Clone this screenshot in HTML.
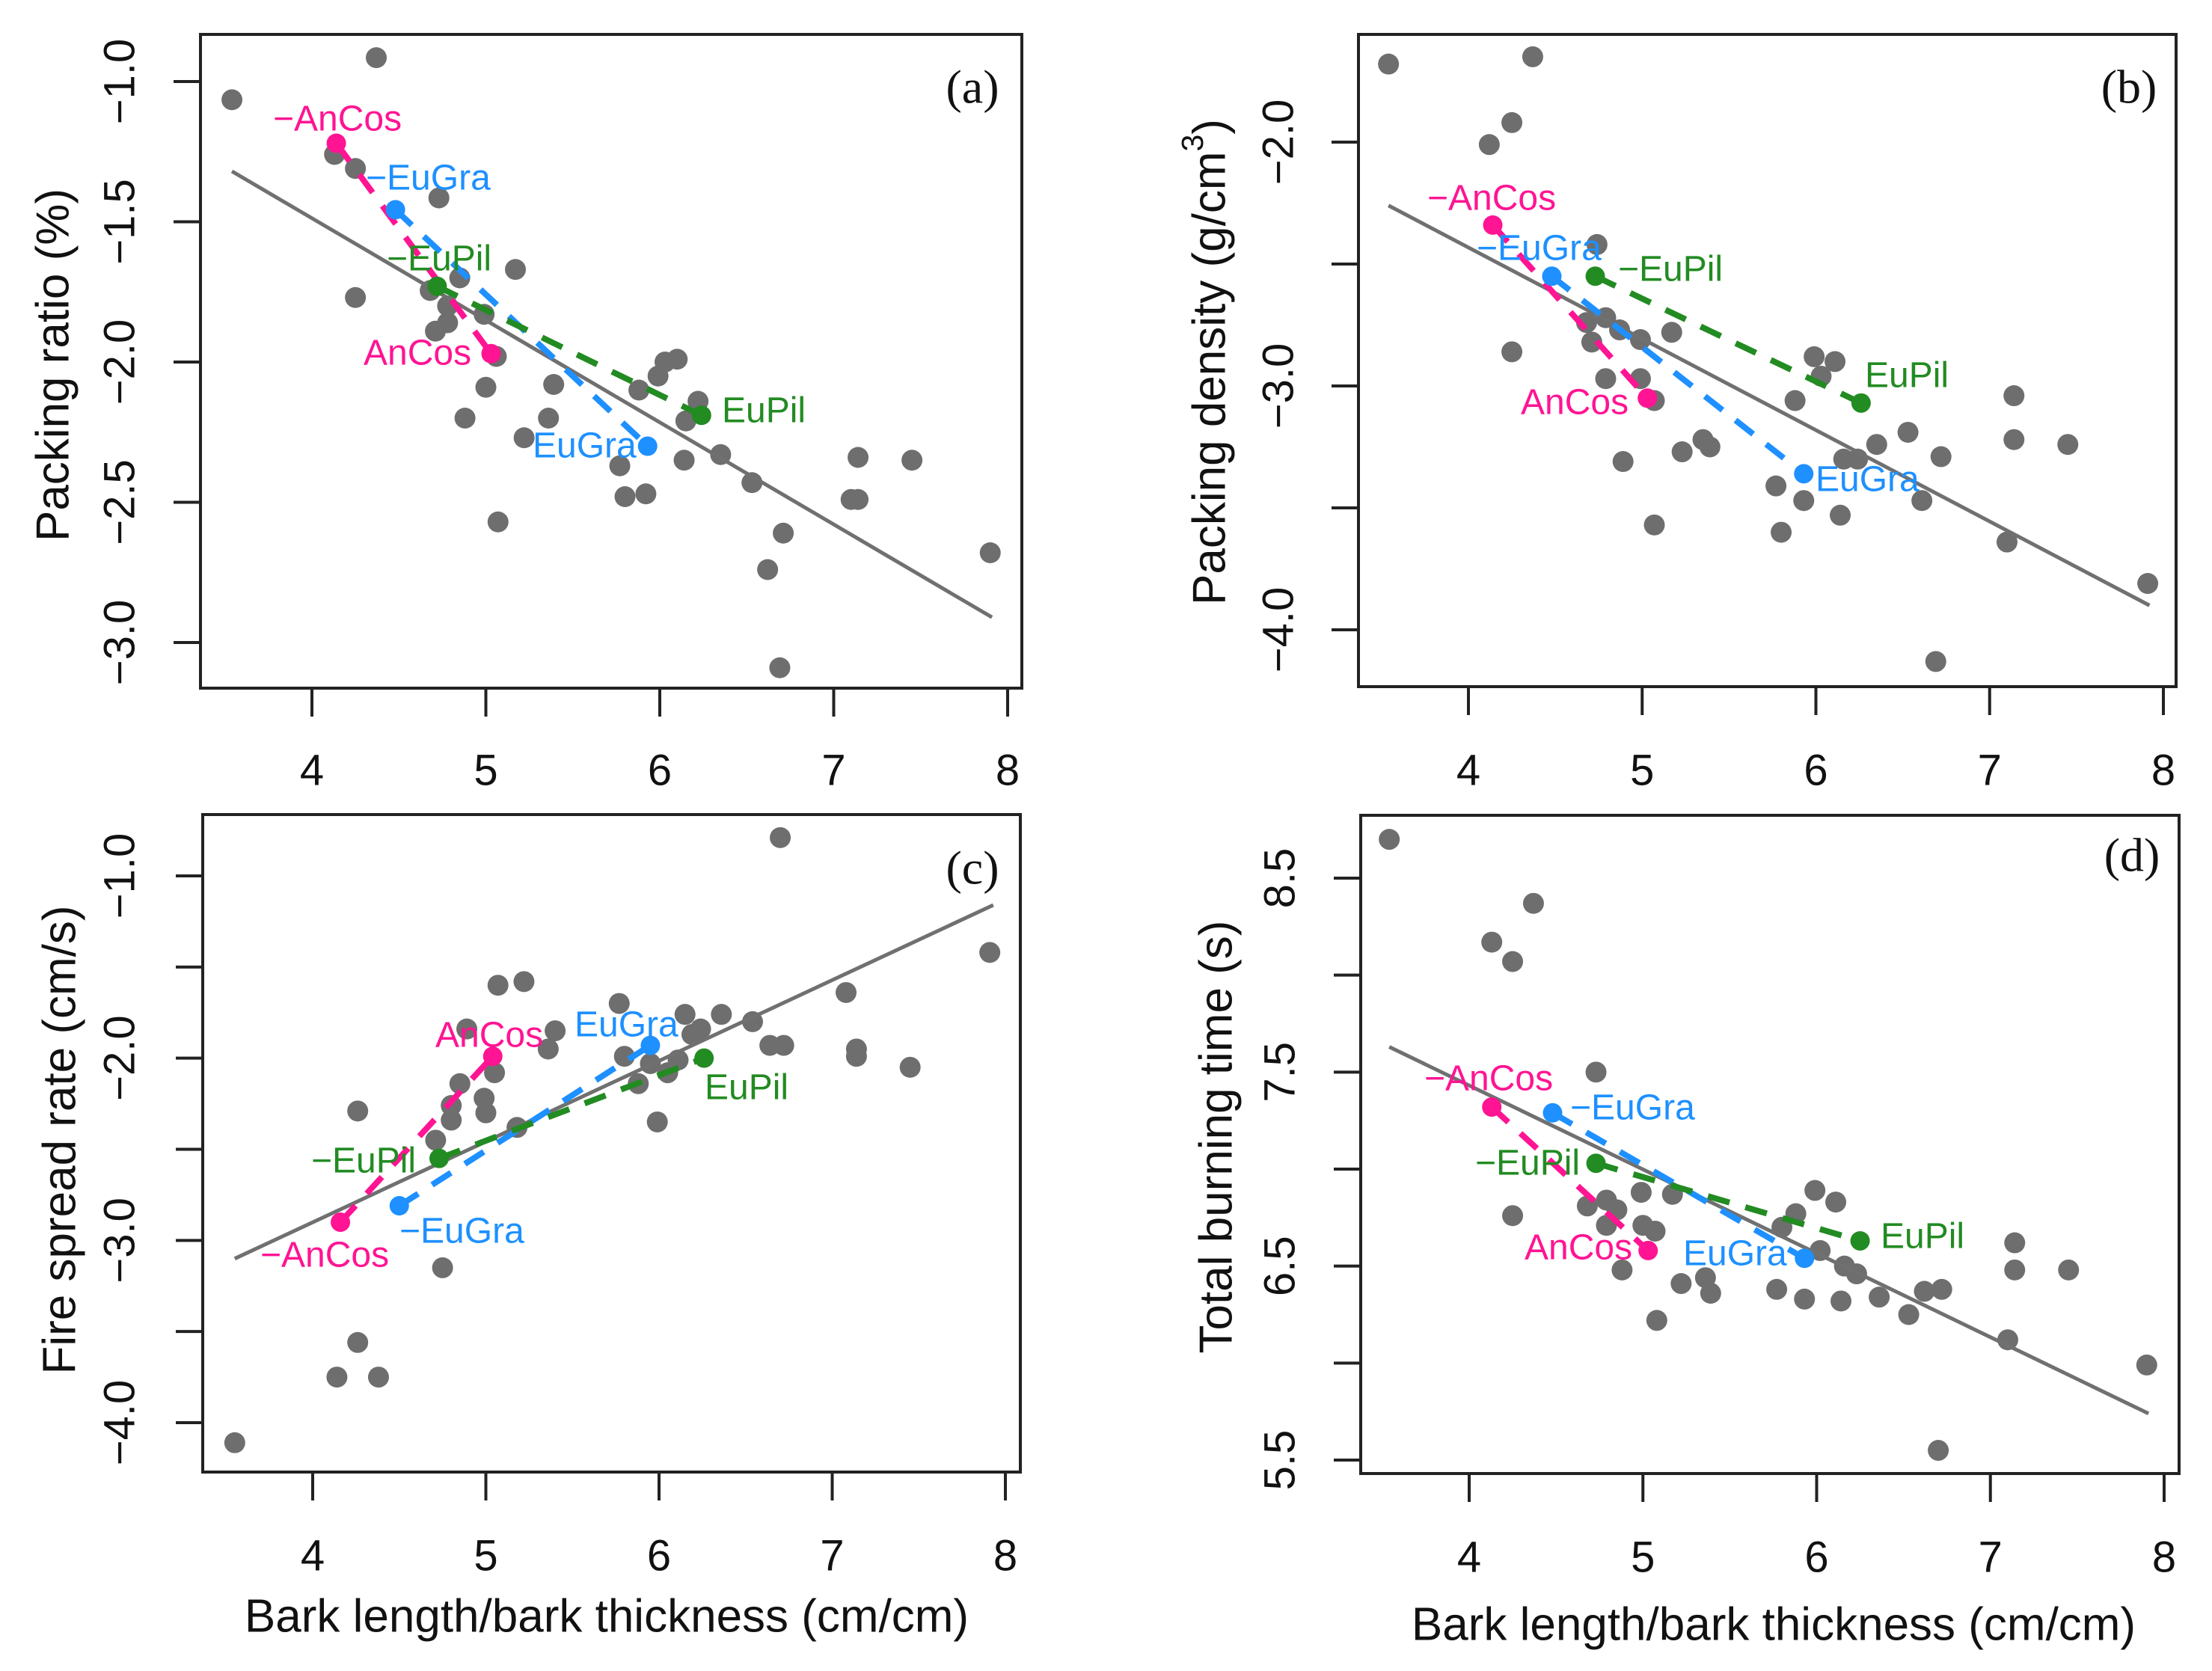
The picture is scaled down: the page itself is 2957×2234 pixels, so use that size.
<!DOCTYPE html>
<html><head><meta charset="utf-8">
<style>
html,body{margin:0;padding:0;background:#fff;}
svg{display:block;}
text{font-family:"Liberation Sans",sans-serif;}
</style></head>
<body>
<svg id="fig" xmlns="http://www.w3.org/2000/svg" width="2957" height="2234" viewBox="0 0 2957 2234"></svg>
<script>
// ---------- data: panel (a) packing ratio ----------
const aX = [3.54,4.37,4.13,4.25,4.73,4.25,5.17,4.85,4.68,4.78,4.78,4.71,4.99,5.06,5.00,4.88,5.39,5.36,5.22,5.88,5.99,6.03,6.10,6.22,6.15,6.14,6.35,5.77,5.80,5.92,5.07,6.53,7.14,7.45,7.10,7.14,6.71,6.62,7.90,6.69];
const aY = [-1.065,-0.915,-1.26,-1.31,-1.415,-1.77,-1.67,-1.70,-1.745,-1.80,-1.86,-1.89,-1.83,-1.98,-2.09,-2.20,-2.08,-2.20,-2.27,-2.10,-2.05,-2.00,-1.99,-2.14,-2.21,-2.35,-2.33,-2.37,-2.48,-2.47,-2.57,-2.43,-2.34,-2.35,-2.49,-2.49,-2.61,-2.74,-2.68,-3.09];
const aFitX = [3.54,7.91];
const aFitY = [-1.32,-2.91];
const aAnCos = [[4.14,-1.22],[5.03,-1.97]];
const aEuGra = [[4.48,-1.457],[5.93,-2.30]];
const aEuPil = [[4.72,-1.73],[6.24,-2.19]];
const aYTicks = [-1.0,-1.5,-2.0,-2.5,-3.0];
const aYLabels = ["\u22121.0","\u22121.5","\u22122.0","\u22122.5","\u22123.0"];

// ---------- data: panel (b) packing density ----------
const bX = [3.54,4.37,4.12,4.25,4.74,4.25,4.68,4.79,4.71,4.79,4.87,4.99,5.17,4.99,5.07,4.89,5.23,5.35,5.39,5.07,5.88,5.77,5.80,5.93,5.99,6.03,6.11,6.16,6.14,6.24,6.35,6.53,6.61,6.72,6.69,7.10,7.14,7.14,7.45,7.91];
const bY = [-1.68,-1.65,-2.01,-1.92,-2.42,-2.86,-2.74,-2.72,-2.82,-2.97,-2.77,-2.81,-2.78,-2.97,-3.06,-3.31,-3.27,-3.22,-3.25,-3.57,-3.06,-3.41,-3.60,-3.47,-2.88,-2.96,-2.90,-3.30,-3.53,-3.30,-3.24,-3.19,-3.47,-3.29,-4.13,-3.64,-3.04,-3.22,-3.24,-3.81];
const bFitX = [3.54,7.92];
const bFitY = [-2.26,-3.90];
const bAnCos = [[4.14,-2.34],[5.03,-3.05]];
const bEuGra = [[4.48,-2.55],[5.93,-3.36]];
const bEuPil = [[4.73,-2.55],[6.26,-3.07]];
const bYTicks = [-2.0,-2.5,-3.0,-3.5,-4.0];
const bYLabels = ["\u22122.0","","\u22123.0","","\u22124.0"];

// ---------- data: panel (c) fire spread rate ----------
const cX = [3.55,4.14,4.38,4.26,4.26,4.75,6.70,5.07,5.22,4.89,5.40,5.36,4.85,4.80,4.80,4.71,4.99,5.00,5.05,5.18,5.77,5.80,5.88,5.95,5.99,6.05,6.11,6.15,6.19,6.24,6.36,6.54,6.64,6.72,7.08,7.14,7.14,7.45,7.91];
const cY = [-4.11,-3.75,-3.75,-3.56,-2.29,-3.15,-0.79,-1.60,-1.58,-1.84,-1.85,-1.95,-2.14,-2.26,-2.34,-2.45,-2.22,-2.30,-2.08,-2.38,-1.70,-1.99,-2.14,-2.03,-2.35,-2.08,-2.01,-1.76,-1.87,-1.84,-1.76,-1.80,-1.93,-1.93,-1.64,-1.95,-1.99,-2.05,-1.42];
const cFitX = [3.55,7.93];
const cFitY = [-3.10,-1.16];
const cAnCos = [[4.16,-2.90],[5.04,-1.99]];
const cEuGra = [[4.50,-2.81],[5.95,-1.93]];
const cEuPil = [[4.73,-2.55],[6.26,-2.00]];
const cYTicks = [-1.0,-1.5,-2.0,-2.5,-3.0,-3.5,-4.0];
const cYLabels = ["\u22121.0","","\u22122.0","","\u22123.0","","\u22124.0"];

// ---------- data: panel (d) total burning time ----------
const dX = [3.54,4.37,4.13,4.25,4.73,4.25,4.68,4.79,4.85,4.79,4.99,5.00,5.07,5.17,4.88,5.22,5.36,5.39,5.08,5.77,5.80,5.88,5.93,5.99,6.02,6.11,6.14,6.16,6.23,6.36,6.53,6.62,6.72,6.70,7.10,7.14,7.14,7.45,7.90];
const dY = [8.70,8.37,8.17,8.07,7.50,6.76,6.81,6.84,6.79,6.71,6.88,6.71,6.68,6.87,6.48,6.41,6.44,6.36,6.22,6.38,6.70,6.77,6.33,6.89,6.58,6.83,6.32,6.50,6.46,6.34,6.25,6.37,6.38,5.55,6.12,6.62,6.48,6.48,5.99];
const dFitX = [3.54,7.91];
const dFitY = [7.63,5.74];
const dAnCos = [[4.13,7.32],[5.03,6.58]];
const dEuGra = [[4.48,7.29],[5.93,6.54]];
const dEuPil = [[4.73,7.03],[6.25,6.63]];
const dYTicks = [8.5,8.0,7.5,7.0,6.5,6.0,5.5];
const dYLabels = ["8.5","","7.5","","6.5","","5.5"];

const xTicks = [4,5,6,7,8];
const xLabels = ["4","5","6","7","8"];

// ---------- rendering ----------
const NS = "http://www.w3.org/2000/svg";
const svg = document.getElementById('fig');
function mk(tag, attrs, parent){
  const e = document.createElementNS(NS, tag);
  for (const k in attrs) e.setAttribute(k, attrs[k]);
  (parent||svg).appendChild(e);
  return e;
}
const COL = {AnCos:"#ff1493", EuGra:"#1e90ff", EuPil:"#228b22"};

const panels = [
  {id:"a", L:268,R:1366,T:46,B:920, x4:417,x8:1347, v1:-1,p1:109, v2:-3,p2:859,
   X:aX,Y:aY,fx:aFitX,fy:aFitY,sp:{AnCos:aAnCos,EuGra:aEuGra,EuPil:aEuPil},yt:aYTicks,yl:aYLabels,
   ylx:160, title:"Packing ratio (%)", tx:71, ty:488, xtitle:null, xly:1030, letter:"(a)", lx:1300, ly:116,
   labels:[["\u2212AnCos","AnCos",365,159],["\u2212EuGra","EuGra",489,238],["\u2212EuPil","EuPil",517,346],["AnCos","AnCos",486,472],["EuGra","EuGra",712,596],["EuPil","EuPil",965,549]]},
  {id:"b", L:1816,R:2909,T:46,B:918, x4:1963,x8:2892, v1:-2,p1:190, v2:-4,p2:842,
   X:bX,Y:bY,fx:bFitX,fy:bFitY,sp:{AnCos:bAnCos,EuGra:bEuGra,EuPil:bEuPil},yt:bYTicks,yl:bYLabels,
   ylx:1709, title:"Packing density (g/cm", sup:true, tx:1617, ty:484, xtitle:null, xly:1030, letter:"(b)", lx:2846, ly:116,
   labels:[["\u2212AnCos","AnCos",1908,265],["\u2212EuGra","EuGra",1974,332],["\u2212EuPil","EuPil",2163,360],["AnCos","AnCos",2033,538],["EuGra","EuGra",2427,641],["EuPil","EuPil",2493,502]]},
  {id:"c", L:271,R:1364,T:1089,B:1968, x4:418,x8:1344, v1:-1,p1:1171, v2:-4,p2:1902,
   X:cX,Y:cY,fx:cFitX,fy:cFitY,sp:{AnCos:cAnCos,EuGra:cEuGra,EuPil:cEuPil},yt:cYTicks,yl:cYLabels,
   ylx:160, title:"Fire spread rate (cm/s)", tx:80, ty:1524, xtitle:"Bark length/bark thickness (cm/cm)", xtx:811, xty:2161, xly:2080, letter:"(c)", lx:1300, ly:1160,
   labels:[["AnCos","AnCos",582,1384],["EuGra","EuGra",768,1370],["EuPil","EuPil",942,1454],["\u2212EuPil","EuPil",416,1552],["\u2212EuGra","EuGra",534,1646],["\u2212AnCos","AnCos",348,1678]]},
  {id:"d", L:1819,R:2913,T:1090,B:1970, x4:1964,x8:2893, v1:8.5,p1:1174, v2:5.5,p2:1952,
   X:dX,Y:dY,fx:dFitX,fy:dFitY,sp:{AnCos:dAnCos,EuGra:dEuGra,EuPil:dEuPil},yt:dYTicks,yl:dYLabels,
   ylx:1711, title:"Total burning time (s)", tx:1626, ty:1520, xtitle:"Bark length/bark thickness (cm/cm)", xtx:2371, xty:2172, xly:2082, letter:"(d)", lx:2850, ly:1143,
   labels:[["\u2212AnCos","AnCos",1904,1442],["\u2212EuGra","EuGra",2099,1481],["\u2212EuPil","EuPil",1972,1555],["AnCos","AnCos",2038,1668],["EuGra","EuGra",2250,1676],["EuPil","EuPil",2514,1653]]}
];

panels.forEach(P => {
  const sx = x => P.x4 + (x-4)*(P.x8-P.x4)/4;
  const sy = y => P.p1 + (y-P.v1)*(P.p2-P.p1)/(P.v2-P.v1);
  const g = mk('g', {});
  
  

  const pts = mk('g', {fill:"#6e6e6e"}, g);
  
  
  P.X.forEach((x,i) => {
    const c = mk('circle', {cx:sx(x), cy:sy(P.Y[i]), r:14}, pts);
    
    
  });
  const fl = mk('line', {x1:sx(P.fx[0]), y1:sy(P.fy[0]), x2:sx(P.fx[1]), y2:sy(P.fy[1]), stroke:"#707070", 'stroke-width':5}, g);
  
  
  Object.keys(P.sp).forEach(k => {
    const s = P.sp[k];
    const ln = mk('line', {x1:sx(s[0][0]), y1:sy(s[0][1]), x2:sx(s[1][0]), y2:sy(s[1][1]), stroke:COL[k], 'stroke-width':8, 'stroke-dasharray':'30 22'}, g);
    
    
    s.forEach(p => {
      const c = mk('circle', {cx:sx(p[0]), cy:sy(p[1]), r:13, fill:COL[k]}, g);
      
      
    });
  });
  P.labels.forEach(l => {
    const t = mk('text', {x:l[2], y:l[3], 'font-size':48, fill:COL[l[1]], 'dominant-baseline':'central'}, g);
    t.textContent = l[0];
    
    
  });
  const fr = mk('rect', {x:P.L, y:P.T, width:P.R-P.L, height:P.B-P.T, fill:"none", stroke:"#222", 'stroke-width':4}, g);
  
  
  xTicks.forEach((v,i) => {
    const x = sx(v);
    const tk = mk('line', {x1:x, y1:P.B, x2:x, y2:P.B+38, stroke:"#222", 'stroke-width':4}, g);
    
    
    const t = mk('text', {x:x, y:P.xly, 'font-size':58, 'text-anchor':'middle', 'dominant-baseline':'central', fill:"#111"}, g);
    t.textContent = xLabels[i];
    
    
  });
  P.yt.forEach((v,i) => {
    const y = sy(v);
    const tk = mk('line', {x1:P.L-36, y1:y, x2:P.L, y2:y, stroke:"#222", 'stroke-width':4}, g);
    
    
    if (P.yl[i]) {
      const t = mk('text', {x:0, y:0, 'font-size':58, 'text-anchor':'middle', 'dominant-baseline':'central', fill:"#111", transform:`translate(${P.ylx},${y}) rotate(-90)`}, g);
      t.textContent = P.yl[i];
      
      
    }
  });
  const yt = mk('text', {x:0, y:0, 'font-size':62, 'text-anchor':'middle', 'dominant-baseline':'central', fill:"#111", transform:`translate(${P.tx},${P.ty}) rotate(-90)`}, g);
  yt.textContent = P.title;
  if (P.sup) {
    const s = mk('tspan', {'baseline-shift':'super', 'font-size':41}, yt);
    s.textContent = "3";
    const e = mk('tspan', {}, yt);
    e.textContent = ")";
  }
  
  
  if (P.xtitle) {
    const xt = mk('text', {x:P.xtx, y:P.xty, 'font-size':62, 'text-anchor':'middle', 'dominant-baseline':'central', fill:"#111"}, g);
    xt.textContent = P.xtitle;
    
    
  }
  const pl = mk('text', {x:P.lx, y:P.ly, 'font-size':64, 'text-anchor':'middle', 'dominant-baseline':'central', fill:"#111", style:'font-family:"Liberation Serif",serif'}, g);
  pl.textContent = P.letter;
  
  
});
</script>
</body></html>
